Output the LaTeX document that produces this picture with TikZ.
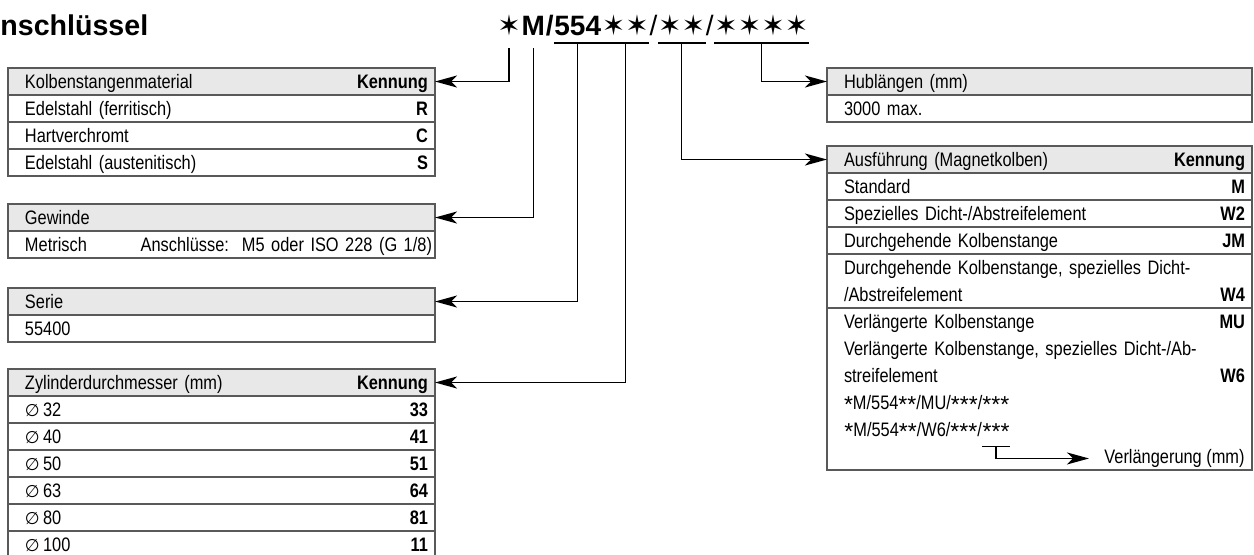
\documentclass[tikz,border=0pt]{standalone}
\usepackage{fontspec}
\setmainfont{Liberation Sans}[FakeStretch=0.84]
\newfontfamily\titlefont{Liberation Sans}
\newfontfamily\starfont{DejaVu Sans}
\usepackage{tikz}
\usetikzlibrary{arrows.meta, positioning, calc}

\definecolor{hdrfill}{gray}{0.91}
\definecolor{rulegray}{gray}{0.35}

\newcommand{\rowstrut}{\rule[-3.25pt]{0pt}{13.5pt}}
\newcommand{\cellrow}[2]{\rowstrut\hspace*{8.5pt}#1\hfill\textbf{#2}\kern3.5pt}
\newcommand{\cellline}[1]{\rowstrut\hspace*{8.5pt}#1}
\newcommand{\sstar}[1]{\raisebox{-0.3ex}{\titlefont\fontsize{11.5}{12}\selectfont #1}}
\newcommand{\dia}{{\starfont\fontsize{8.5}{10}\selectfont ∅}}

\begin{document}
\begin{tikzpicture}[x=0.5pt, y=-0.5pt,
    tab/.style={draw=rulegray, line width=0.6pt, inner sep=0pt, outer sep=0pt, text width=#1, font=\fontsize{9.75}{13.5}\selectfont},
    tab/.default=213.5pt,
    hdr/.style={tab=#1, fill=hdrfill},
    hdr/.default=213.5pt,
    code/.style={inner sep=0pt, anchor=base west, font=\titlefont\fontsize{14}{16}\selectfont},
    note/.style={inner sep=0pt, font=\fontsize{9.75}{13.5}\selectfont},
    conn/.style={line width=0.75pt, -{Stealth[length=11pt, width=6pt, inset=3pt]}},
    uline/.style={line width=0.75pt}]
    \useasboundingbox (0,0) rectangle (1254,554);

    % title and order code
    \node[inner sep=0pt, anchor=base west, font=\titlefont\bfseries\fontsize{14.3}{16}\selectfont] (title) at (0,35) {nschlüssel};
    \node[code] (cA) at (497,35) {\starfont ✶};
    \node[code] (cM) at (cA.base east) {\bfseries M};
    \node[code] (cSl) at (cM.base east) {\bfseries /};
    \node[code] (c554) at (cSl.base east) {\bfseries 554};
    \node[code] (cB) at (c554.base east) {\starfont ✶✶};
    \node[code] (cS1) at (cB.base east) {/};
    \node[code] (cC) at (cS1.base east) {\starfont ✶✶};
    \node[code] (cS2) at (cC.base east) {/};
    \node[code] (cD) at (cS2.base east) {\starfont ✶✶✶✶};

    % left tables
    \node[hdr, anchor=north west] (matHead) at (8,68) {\cellrow{Kolbenstangenmaterial}{Kennung}};
    \node[tab, below=0pt of matHead] (mat1) {\cellrow{Edelstahl (ferritisch)}{R}};
    \node[tab, below=0pt of mat1] (mat2) {\cellrow{Hartverchromt}{C}};
    \node[tab, below=0pt of mat2] (mat3) {\cellrow{Edelstahl (austenitisch)}{S}};

    \node[hdr, anchor=north west] (gewHead) at (8,204) {\cellrow{Gewinde}{}};
    \node[tab, below=0pt of gewHead] (gew1) {\rowstrut\hspace*{8.5pt}Metrisch\hfill Anschlüsse:\ \ M5 oder ISO 228 (G 1/8)\kern1.5pt};

    \node[hdr, anchor=north west] (serHead) at (8,288) {\cellrow{Serie}{}};
    \node[tab, below=0pt of serHead] (ser1) {\cellrow{55400}{}};

    \node[hdr, anchor=north west] (zylHead) at (8,369) {\cellrow{Zylinderdurchmesser (mm)}{Kennung}};
    \node[tab, below=0pt of zylHead] (zyl1) {\cellrow{\dia\,32}{33}};
    \node[tab, below=0pt of zyl1] (zyl2) {\cellrow{\dia\,40}{41}};
    \node[tab, below=0pt of zyl2] (zyl3) {\cellrow{\dia\,50}{51}};
    \node[tab, below=0pt of zyl3] (zyl4) {\cellrow{\dia\,63}{64}};
    \node[tab, below=0pt of zyl4] (zyl5) {\cellrow{\dia\,80}{81}};
    \node[tab, below=0pt of zyl5] (zyl6) {\cellrow{\dia\,100}{11}};

    % right tables
    \node[hdr=212.5pt, anchor=north west] (hubHead) at (827,68) {\cellrow{Hublängen (mm)}{}};
    \node[tab=212.5pt, below=0pt of hubHead] (hub1) {\cellrow{3000 max.}{}};

    \node[hdr=212.5pt, anchor=north west] (ausHead) at (827,146) {\cellrow{Ausführung (Magnetkolben)}{Kennung}};
    \node[tab=212.5pt, below=0pt of ausHead] (aus1) {\cellrow{Standard}{M}};
    \node[tab=212.5pt, below=0pt of aus1] (aus2) {\cellrow{Spezielles Dicht-/Abstreifelement}{W2}};
    \node[tab=212.5pt, below=0pt of aus2] (aus3) {\cellrow{Durchgehende Kolbenstange}{JM}};
    \node[tab=212.5pt, below=0pt of aus3] (aus4) {\cellline{Durchgehende Kolbenstange, spezielles Dicht-}\\
        \cellrow{/Abstreifelement}{W4}};
    \node[tab=212.5pt, below=0pt of aus4] (aus5) {\cellrow{Verlängerte Kolbenstange}{MU}\\
        \cellline{Verlängerte Kolbenstange, spezielles Dicht-/Ab-}\\
        \cellrow{streifelement}{W6}\\
        \cellline{\sstar{*}M/554\sstar{**}/MU/\sstar{***}/\sstar{***}}\\
        \rowstrut\\
        \rowstrut};
    \node[note, anchor=base west] (codeW) at ($(aus5.north west)+(8.5pt,-64.25pt)$) {\sstar{*}M/554\sstar{**}/W6/\sstar{***}/};
    \node[note, anchor=base west] (codeX) at (codeW.base east) {\sstar{***}};
    \node[note, anchor=base east] (verl) at ($(aus5.south east)+(-3.5pt,3.25pt)$) {Verlängerung (mm)};

    % connectors
    \draw[conn] ($(cA.base)+(0,13)$) |- (matHead.east);
    \draw[conn] ($(cM.base)+(0,13)$) |- (gewHead.east);
    \draw[uline] ($(c554.base west)+(0,8)$) -- ($(c554.base east)+(0,8)$);
    \draw[conn] ($(c554.base)+(0,8)$) |- (serHead.east);
    \draw[uline] ($(cB.base west)+(0,8)$) -- ($(cB.base east)+(0,8)$);
    \draw[conn] ($(cB.base)+(0,8)$) |- (zylHead.east);
    \draw[uline] ($(cC.base west)+(0,8)$) -- ($(cC.base east)+(0,8)$);
    \draw[conn] ($(cC.base)+(0,8)$) |- (ausHead.west);
    \draw[uline] ($(cD.base west)+(0,8)$) -- ($(cD.base east)+(0,8)$);
    \draw[conn] ($(cD.base)+(0,8)$) |- (hubHead.west);
    \draw[uline] ($(codeX.base west)+(0,10)$) -- ($(codeX.base east)+(0,10)$);
    \draw[conn, shorten >=7.5pt] ($(codeX.base)+(0,10)$) |- (verl.west);
\end{tikzpicture}
\end{document}
